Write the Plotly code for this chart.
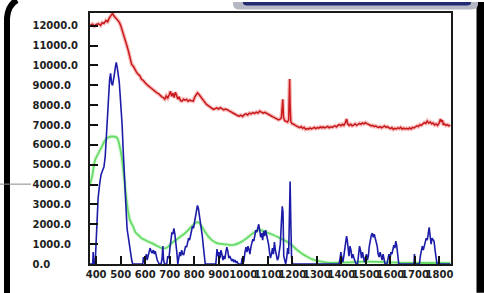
import plotly.graph_objects as go

# ---------------- data ----------------
red_x = [375, 385, 392, 400, 410, 418, 425, 432, 440, 447, 453, 458, 463, 467, 472, 477, 482, 488, 494, 500,
         506, 512, 518, 524, 531, 538, 545, 552, 558, 565, 572, 578, 585, 592, 598, 605, 612, 620, 627, 634,
         641, 648, 655, 662, 668, 674, 680, 686, 692, 698, 703, 708, 713, 718, 723, 728, 733, 738, 744, 750,
         756, 762, 769, 775, 782, 789, 796, 802, 808, 813, 818, 824, 830, 836, 843, 850, 857, 864, 871, 878,
         885, 892, 899, 906, 913, 920, 927, 934, 941, 948, 955, 962, 969, 976, 983, 990, 997, 1004, 1011, 1018,
         1025, 1032, 1039, 1046, 1053, 1060, 1067, 1074, 1081, 1088, 1095, 1102, 1109, 1116, 1123, 1130, 1137,
         1144, 1150, 1155, 1158, 1161, 1164, 1168, 1172, 1176, 1180, 1185, 1187, 1189, 1191, 1194, 1200, 1206,
         1212, 1218, 1224, 1230, 1236, 1242, 1248, 1254, 1260, 1266, 1272, 1278, 1284, 1290, 1296, 1302, 1308,
         1314, 1320, 1326, 1332, 1338, 1344, 1350, 1356, 1362, 1368, 1374, 1380, 1386, 1392, 1398, 1404, 1410,
         1416, 1421, 1426, 1432, 1438, 1444, 1450, 1456, 1462, 1468, 1474, 1480, 1486, 1492, 1498, 1504, 1510,
         1516, 1522, 1528, 1534, 1540, 1546, 1552, 1558, 1564, 1570, 1576, 1582, 1588, 1594, 1600, 1606, 1612,
         1618, 1624, 1630, 1636, 1642, 1648, 1654, 1660, 1666, 1672, 1678, 1684, 1690, 1696, 1702, 1708, 1714,
         1720, 1726, 1732, 1738, 1744, 1750, 1756, 1762, 1768, 1774, 1780, 1786, 1792, 1798, 1804, 1808, 1812,
         1816, 1820, 1826, 1832, 1838, 1844]
red_y = [12000, 12080, 11980, 12060, 12100, 12020, 12150, 12120, 12260, 12200, 12380, 12450, 12560, 12620, 12500,
         12420, 12380, 12300, 12180, 12020, 11800, 11550, 11350, 11050, 10750, 10400, 10050, 9950, 9780, 9650,
         9550, 9480, 9300, 9250, 9150, 9050, 8980, 8900, 8820, 8760, 8700, 8620, 8580, 8480, 8420, 8380, 8300,
         8460, 8360, 8520, 8700, 8450, 8600, 8380, 8650, 8500, 8300, 8420, 8230, 8200, 8300, 8250, 8290, 8200,
         8250, 8220, 8200, 8400, 8500, 8620, 8560, 8450, 8380, 8250, 8150, 8040, 7980, 7900, 7850, 7790, 7820,
         7860, 7800, 7870, 7820, 7760, 7800, 7780, 7720, 7680, 7620, 7600, 7530, 7480, 7450, 7500, 7430, 7520,
         7560, 7500, 7600, 7560, 7620, 7580, 7650, 7600, 7700, 7650, 7600, 7640, 7580, 7520, 7480, 7440, 7400,
         7350, 7300, 7260, 7300, 7350, 7800, 8290, 7400, 7220, 7200, 7180, 7150, 7250, 8500, 9320, 8000, 7150,
         7060, 7040, 6980, 6950, 6900, 6870, 6920, 6830, 6880, 6780, 6820, 6790, 6850, 6800, 6840, 6880, 6820,
         6870, 6840, 6900, 6860, 6900, 6850, 6880, 6930, 6860, 6910, 6880, 6920, 6960, 6900, 6990, 7020, 6960,
         7040, 6980, 7100, 7300, 7050, 6980, 7040, 6960, 6990, 7060, 6980, 7020, 7080, 7030, 7100, 7060, 7120,
         7070, 7050, 7000, 6950, 6980, 6920, 6960, 6900, 6880, 6920, 6860, 6900, 6950, 6880, 6920, 6860, 6820,
         6870, 6780, 6830, 6800, 6860, 6820, 6880, 6790, 6840, 6800, 6830, 6790, 6850, 6800, 6880, 6850, 6900,
         6960, 6920, 7020, 6980, 7060, 7120, 7080, 7200, 7100, 7150, 7060, 7100, 7000, 7050, 6980, 7080, 7300,
         7150, 7250, 7000, 7060, 6980, 7020, 6960, 7000]

blue_x = [375, 386, 388, 391, 396, 402, 408, 414, 420, 426, 432, 437, 441, 445, 450, 455, 459, 463, 467, 471,
          475, 479, 482, 486, 490, 494, 498, 502, 506, 510, 514, 520, 526, 531, 538, 545, 549, 590, 593, 597,
          601, 605, 608, 612, 616, 620, 624, 628, 633, 637, 641, 645, 649, 653, 657, 665, 669, 672, 675, 679,
          688, 692, 697, 701, 705, 709, 713, 717, 721, 725, 729, 733, 737, 741, 745, 749, 753, 757, 761, 765,
          769, 773, 777, 781, 785, 789, 793, 797, 801, 805, 809, 813, 817, 821, 825, 829, 833, 837, 841, 845,
          888, 890, 893, 897, 901, 905, 909, 913, 917, 921, 925, 929, 933, 937, 941, 945, 949, 953, 957, 961,
          966, 971, 975, 980, 992, 995, 999, 1003, 1007, 1011, 1015, 1019, 1023, 1027, 1031, 1035, 1039, 1043,
          1047, 1051, 1055, 1059, 1063, 1067, 1071, 1075, 1079, 1083, 1087, 1091, 1095, 1099, 1103, 1107, 1111,
          1115, 1119, 1123, 1127, 1131, 1135, 1139, 1143, 1147, 1151, 1155, 1159, 1162, 1165, 1169, 1173, 1177,
          1181, 1185, 1188, 1191, 1194, 1197, 1201, 1390, 1394, 1398, 1402, 1406, 1410, 1414, 1418, 1421, 1424,
          1427, 1431, 1435, 1439, 1443, 1447, 1451, 1455, 1460, 1466, 1470, 1474, 1478, 1482, 1486, 1490, 1494,
          1498, 1502, 1506, 1510, 1514, 1518, 1522, 1526, 1530, 1534, 1538, 1542, 1546, 1550, 1554, 1558, 1562,
          1566, 1570, 1574, 1578, 1586, 1590, 1594, 1598, 1602, 1606, 1610, 1614, 1618, 1622, 1626, 1630, 1634,
          1696, 1698, 1701, 1718, 1722, 1726, 1730, 1734, 1738, 1742, 1746, 1750, 1754, 1758, 1762, 1766, 1770,
          1774, 1778, 1782, 1786, 1790, 1844]
blue_y = [0, 0, 600, 0, 0, 1500, 3300, 4000, 4500, 4700, 4900, 5400, 6400, 7300, 8400, 9300, 9600, 9100, 9000,
          9250, 9600, 9950, 10150, 9900, 9600, 9200, 8500, 7900, 7000, 5800, 4600, 2700, 1800, 1380, 700, 200, 0,
          0, 350, 100, 300, 500, 200, 450, 650, 800, 650, 550, 700, 500, 650, 400, 200, 100, 0, 0, 300, 900, 200,
          0, 0, 400, 300, 800, 1200, 1600, 1500, 1800, 1500, 1100, 600, 0, 300, 600, 400, 700, 500, 450, 700, 900,
          850, 1100, 1300, 1200, 1500, 1700, 1900, 1800, 2100, 2400, 2700, 2950, 2800, 2500, 2200, 1800, 1400,
          900, 400, 0, 0, 500, 750, 400, 600, 300, 700, 500, 200, 400, 250, 600, 850, 650, 300, 400, 200, 150,
          250, 100, 200, 80, 120, 0, 0, 300, 0, 200, 600, 850, 600, 900, 750, 500, 850, 1000, 1250, 1150, 1500,
          1700, 1600, 1900, 2000, 1700, 1350, 1550, 1200, 1650, 1400, 1700, 1500, 1200, 1000, 600, 300, 500, 800,
          500, 1100, 700, 400, 200, 300, 600, 1000, 2000, 2900, 2600, 400, 200, 0, 300, 800, 500, 2500, 4150,
          2000, 300, 0, 0, 200, 600, 300, 100, 400, 700, 1000, 1400, 1200, 600, 400, 900, 700, 300, 500, 300, 100,
          0, 0, 400, 900, 700, 300, 600, 400, 100, 300, 500, 200, 400, 900, 1200, 1450, 1550, 1350, 1500, 1300,
          1200, 900, 500, 350, 600, 400, 200, 500, 300, 0, 0, 300, 500, 200, 600, 500, 700, 950, 800, 1150, 900,
          300, 0, 0, 500, 0, 0, 400, 800, 900, 700, 1000, 1100, 1300, 1200, 1500, 1850, 1400, 1000, 1300, 1200,
          1150, 700, 300, 0, 0]

green_x = [375, 385, 395, 410, 422, 435, 449, 465, 484, 497, 504, 511, 518, 524, 531, 538, 551, 560, 572, 585,
           599, 613, 627, 647, 667, 688, 708, 735, 762, 783, 803, 817, 831, 845, 858, 872, 892, 920, 960, 990,
           1014, 1040, 1062, 1085, 1105, 1123, 1150, 1177, 1198, 1218, 1240, 1259, 1285, 1313, 1354, 1400, 1450,
           1500, 1550, 1600, 1650, 1700, 1750, 1800, 1844]
green_y = [4000, 4500, 5200, 5600, 5870, 6200, 6370, 6420, 6370, 5870, 5400, 4700, 3900, 3210, 2600, 2210, 1880,
           1600, 1460, 1300, 1210, 1120, 1050, 920, 800, 820, 1050, 1300, 1550, 1800, 2050, 2100, 1880, 1600, 1380,
           1200, 1050, 1000, 960, 1100, 1300, 1550, 1710, 1650, 1550, 1460, 1300, 1130, 950, 715, 520, 380, 220,
           130, 60, 70, 90, 120, 110, 80, 60, 50, 50, 50, 40]

x_tick_vals = [400, 500, 600, 700, 800, 900, 1000, 1100, 1200, 1300, 1400, 1500, 1600, 1700, 1800]
x_tick_text = ["400", "500", "600", "700", "800", "900", "1000", "1100", "1200", "1300", "1400", "1500",
               "1600", "1700", "1800"]
y_tick_vals = [0, 1000, 2000, 3000, 4000, 5000, 6000, 7000, 8000, 9000, 10000, 11000, 12000]
y_tick_text = ["0.0", "1000.0", "2000.0", "3000.0", "4000.0", "5000.0", "6000.0", "7000.0", "8000.0",
               "9000.0", "10000.0", "11000.0", "12000.0"]

# ---------------- figure ----------------
W, H = 484, 293
ML, MR, MT, MB = 90, 33, 11, 29
PW, PH = W - ML - MR, H - MT - MB


def px(x):
    return (x - ML) / PW


def py(y):
    return (H - MB - y) / PH


fig = go.Figure()

# glows
fig.add_trace(go.Scatter(x=red_x, y=red_y, mode="lines",
                         line=dict(color="rgba(235,70,70,0.35)", width=4), hoverinfo="skip"))
fig.add_trace(go.Scatter(x=green_x, y=green_y, mode="lines",
                         line=dict(color="rgba(140,235,140,0.3)", width=4, shape="spline"), hoverinfo="skip"))
# main lines
fig.add_trace(go.Scatter(x=green_x, y=green_y, mode="lines",
                         line=dict(color="#66dc66", width=1.8, shape="spline")))
fig.add_trace(go.Scatter(x=blue_x, y=blue_y, mode="lines",
                         line=dict(color="#1c1ca8", width=1.6)))
fig.add_trace(go.Scatter(x=red_x, y=red_y, mode="lines",
                         line=dict(color="#c8191c", width=1.5)))

# left-aligned y labels: pad with figure spaces (same width as digits)
y_text_padded = [t + "\u2007" * (7 - len(t)) for t in y_tick_text]

tickfont = dict(family="DejaVu Sans", size=10, color="#1e1e1e", weight="bold")

fig.update_xaxes(range=[375, 1847], tickmode="array", tickvals=x_tick_vals, ticktext=x_tick_text,
                 tickangle=0, ticks="inside", ticklen=8, tickwidth=1.5, tickcolor="#111",
                 showgrid=False, zeroline=False, showline=True, linecolor="#1a1a1a", linewidth=2,
                 mirror=True, tickfont=tickfont)
fig.update_yaxes(range=[0, 12640], tickmode="array", tickvals=y_tick_vals, ticktext=y_text_padded,
                 ticks="inside", ticklen=8, tickwidth=1.5, tickcolor="#111",
                 showgrid=False, zeroline=False, showline=True, linecolor="#1a1a1a", linewidth=2,
                 mirror=True, tickfont=tickfont, ticklabelstandoff=8)

shapes = []
# left black border with curved top
shapes.append(dict(type="path", xref="paper", yref="paper",
                   path=f"M {px(7)},{py(300)} L {px(7)},{py(16)} Q {px(8)},{py(3)} {px(17)},{py(-2)}",
                   line=dict(color="black", width=6)))
# right black border
shapes.append(dict(type="rect", xref="paper", yref="paper", x0=px(476.5), x1=px(484), y0=py(293), y1=py(0),
                   fillcolor="black", line=dict(width=0), layer="above"))
# top-right box (gray frame + navy)
shapes.append(dict(type="path", xref="paper", yref="paper",
                   path=(f"M {px(233)},{py(0)} L {px(233)},{py(2)} Q {px(233)},{py(7.5)} {px(239)},{py(7.5)} "
                         f"L {px(472)},{py(7.5)} Q {px(478)},{py(7.5)} {px(478)},{py(2)} L {px(478)},{py(0)} Z"),
                   fillcolor="#b4b8c4", line=dict(width=0), layer="above"))
shapes.append(dict(type="path", xref="paper", yref="paper",
                   path=(f"M {px(243)},{py(0)} L {px(243)},{py(1)} Q {px(243)},{py(3.5)} {px(247)},{py(3.5)} "
                         f"L {px(467)},{py(3.5)} Q {px(471)},{py(3.5)} {px(471)},{py(1)} L {px(471)},{py(0)} Z"),
                   fillcolor="#222a72", line=dict(width=0), layer="above"))
# small gray line at left
shapes.append(dict(type="line", xref="paper", yref="paper", x0=px(0), x1=px(31), y0=py(183.5), y1=py(183.5),
                   line=dict(color="#8a8a8a", width=1)))

fig.update_layout(width=W, height=H, margin=dict(l=ML, r=MR, t=MT, b=MB, pad=0),
                  paper_bgcolor="white", plot_bgcolor="white", showlegend=False, shapes=shapes)

fig.write_html("out.html", config={"displayModeBar": False},
               post_script="document.body.style.margin='0';document.body.style.overflow='hidden';")
